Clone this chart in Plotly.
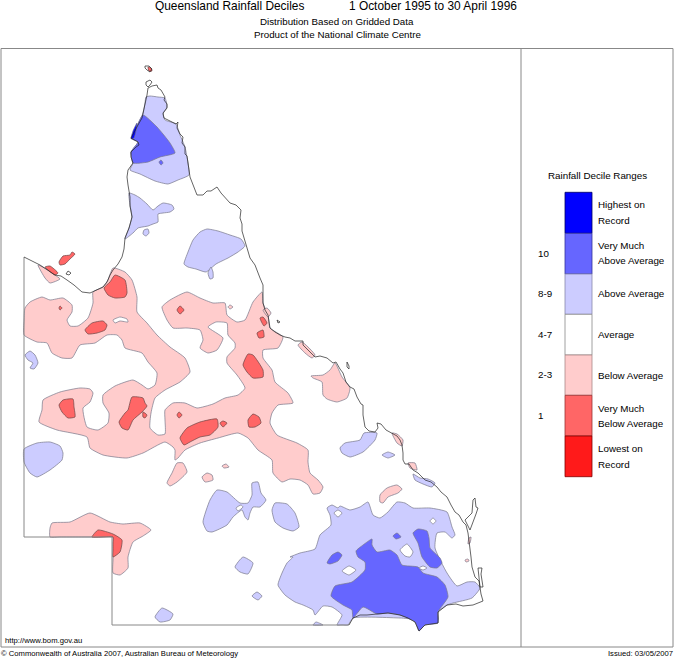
import plotly.graph_objects as go

# Map geometry in image-pixel units
COAST = [(349,625),(353,618),(360,615),(367,615),(377,614),(388,613),(400,615),(408,618),(415,622),(419,631),(425,625),(431,624),(438,623),(438,612),(442,609),(447,605),(456,604),(463,606),(473,605),(478,603),(483,601),(481,594),(480,587),(479,581),(475,577),(472,567),(471,557),(470,547),(469,541),(468,533),(466,525),(463,522),(459,515),(455,512),(451,505),(447,497),(441,492),(437,487),(431,482),(425,480),(418,473),(413,470),(409,464),(405,464),(403,460),(403,453),(402,445),(400,440),(397,436),(392,433),(386,430),(381,424),(377,423),(378,428),(375,432),(369,431),(365,427),(363,415),(363,405),(361,404),(357,397),(354,389),(350,387),(346,382),(343,373),(340,369),(336,362),(333,363),(327,358),(320,356),(315,357),(309,351),(303,345),(303,341),(295,341),(290,338),(285,337),(280,335),(275,332),(270,328),(269,322),(268,315),(265,310),(263,303),(263,294),(263,285),(260,278),(257,270),(255,265),(250,258),(247,248),(245,240),(242,231),(242,224),(240,218),(241,210),(236,205),(230,203),(226,199),(221,193),(217,187),(211,191),(207,191),(203,195),(197,195),(194,187),(190,177),(189,170),(188,163),(187,156),(185,154),(185,147),(182,143),(183,137),(180,134),(177,128),(178,122),(176,124),(170,121),(164,118),(163,113),(167,108),(167,104),(164,100),(165,97),(161,90),(158,88),(157,85),(152,86),(148,88),(147,95),(145,104),(143,113),(142,118),(138,125),(135,131),(131,138),(138,142),(139,145),(136,147),(131,152),(131,157),(133,163),(128,170),(127,177),(128,185),(130,197),(130,206),(132,217),(129,228),(125,238),(124,249),(122,257),(118,264),(113,270),(110,275),(107,282),(103,287),(97,290),(90,293),(82,292),(74,285),(67,280),(61,276),(55,275),(48,270),(40,265),(32,261),(24,257)]
INLAND_BORDER = [(24,257),(24,537),(112,537),(112,625),(349,625)]
COAST_BITS = [
    [(145,66),(149,66),(152,69),(150,72),(147,70),(145,68),(145,66)],
    [(146,85),(146,82),(150,80),(152,82),(150,85),(148,87),(146,85)],
    [(473,500),(475,498),(476,507),(478,508),(476,514),(473,522),(470,530),(465,520),(472,513),(473,500)],
    [(478,568),(482,568),(481,574),(482,580),(483,587),(480,587),(479,577),(478,568)],
    [(347,362),(349,366),(349,369),(347,367),(347,362)],
    [(277,320),(280,322),(278,323),(277,320)],
    [(68,271),(71,273),(69,275),(66,274),(68,271)],
]

ABOVE = [
    [(146,97),(150,96),(158,97),(165,98),(167,107),(163,114),(165,120),(176,124),(180,135),(185,147),(188,163),(189,175),(178,180),(168,184),(155,181),(140,174),(130,170),(133,163),(131,152),(138,142),(136,130),(143,113),(145,103)],
    [(129,193),(135,195),(140,198),(147,204),(153,210),(158,206),(163,203),(172,205),(174,209),(170,212),(163,213),(158,214),(158,222),(153,224),(148,226),(138,228),(133,233),(125,239),(129,228),(132,217),(130,205)],
    [(144,230),(148,229),(149,233),(146,236),(143,234)],
    [(184,264),(188,252),(193,240),(200,232),(207,229),(218,231),(230,235),(241,239),(245,246),(238,252),(228,258),(216,264),(206,272),(196,269),(188,267)],
    [(208,273),(211,267),(213,272),(213,278),(210,279)],
    [(25,355),(30,351),(35,355),(38,363),(34,369),(30,368),(33,363),(28,360)],
    [(24,449),(37,443),(50,442),(60,446),(63,453),(62,460),(50,470),(37,477),(30,473),(24,462)],
    [(203,522),(210,500),(217,490),(227,492),(240,503),(248,503),(252,495),(252,483),(258,482),(261,493),(266,500),(260,507),(253,507),(250,513),(248,520),(245,517),(242,510),(233,517),(227,525),(212,532),(207,531)],
    [(272,510),(275,503),(287,504),(295,513),(299,527),(293,531),(283,528),(275,522)],
    [(235,567),(243,557),(253,563),(248,574),(240,572)],
    [(252,596),(257,592),(262,596),(258,600)],
    [(155,617),(162,608),(173,614),(170,620),(160,622)],
    [(340,448),(345,443),(360,440),(364,433),(377,433),(375,440),(363,452),(350,457),(342,453)],
    [(382,455),(388,452),(395,455),(388,458)],
    [(413,474),(420,478),(428,479),(435,483),(432,487),(423,484),(415,480)],
    [(290,557),(300,553),(315,549),(320,535),(331,525),(330,515),(327,508),(332,505),(338,508),(340,506),(350,510),(360,507),(368,502),(373,515),(380,518),(388,512),(397,502),(405,503),(413,508),(430,508),(447,512),(452,527),(455,535),(452,538),(445,532),(437,533),(435,548),(447,573),(457,586),(467,582),(475,582),(480,588),(472,598),(453,603),(447,605),(438,612),(438,620),(400,618),(353,618),(348,625),(342,625),(337,625),(342,615),(332,607),(323,606),(315,615),(313,610),(303,605),(295,602),(285,595),(278,585),(282,573),(287,563),(293,557)],
    [(313,625),(316,622),(323,625)],
]
MUCH_ABOVE = [
    [(143,115),(157,127),(170,143),(175,153),(160,157),(148,162),(133,163),(131,152),(138,142),(132,139),(136,128)],
    [(159,162),(161,160),(163,163),(161,165)],
    [(356,551),(363,545),(372,539),(372,545),(377,552),(390,550),(397,555),(402,565),(418,567),(423,573),(437,577),(445,585),(448,597),(438,612),(438,623),(425,625),(419,631),(415,622),(400,615),(388,613),(377,614),(363,607),(353,618),(352,610),(343,605),(331,596),(335,586),(352,582),(365,570),(365,562),(358,557)],
    [(413,533),(418,529),(427,531),(429,538),(430,548),(440,558),(442,563),(437,568),(430,567),(422,557),(418,543)],
    [(393,536),(397,533),(401,537),(396,539)],
    [(327,563),(332,555),(338,552),(342,555),(338,561),(330,564)],
]
HIGHEST = [[(137,123),(136,131),(134,138),(131,139),(133,131)]]

BELOW = [
    [(113,268),(125,272),(132,280),(137,297),(137,312),(147,323),(157,335),(170,347),(185,358),(190,372),(180,382),(165,390),(155,398),(151,413),(150,428),(158,435),(165,434),(165,420),(165,410),(173,403),(185,403),(197,408),(213,404),(225,398),(238,395),(245,388),(237,375),(227,363),(227,357),(235,348),(235,343),(228,335),(227,323),(216,322),(208,327),(223,338),(217,350),(208,353),(200,348),(203,340),(200,330),(187,328),(173,328),(167,320),(162,307),(170,300),(187,292),(200,298),(213,303),(225,303),(227,315),(237,322),(245,320),(253,302),(262,292),(263,303),(268,315),(270,328),(283,337),(278,348),(263,350),(263,358),(272,370),(275,382),(288,393),(293,403),(278,405),(272,413),(270,423),(277,435),(297,443),(308,450),(308,462),(310,473),(318,480),(323,487),(320,493),(313,494),(308,485),(300,480),(290,479),(282,482),(273,473),(272,460),(258,450),(248,438),(238,433),(218,438),(200,443),(185,450),(178,458),(175,460),(175,450),(173,447),(165,442),(143,453),(127,458),(103,455),(90,448),(87,437),(57,430),(39,422),(42,410),(43,400),(60,392),(80,388),(90,389),(93,393),(90,402),(83,408),(87,427),(98,430),(108,423),(109,413),(103,403),(103,395),(115,386),(133,380),(142,385),(148,389),(155,385),(157,373),(148,362),(142,353),(125,348),(122,340),(117,335),(107,335),(95,343),(80,345),(72,358),(62,358),(52,353),(47,343),(37,342),(24,335),(24,320),(25,308),(30,302),(42,297),(50,300),(63,298),(72,305),(72,312),(67,320),(70,326),(78,326),(88,318),(93,303),(93,292),(103,287),(108,280)],
    [(38,265),(48,270),(55,275),(60,279),(50,283),(45,278)],
    [(167,483),(172,473),(177,463),(183,463),(187,472),(177,482),(170,486)],
    [(202,477),(207,473),(212,475),(213,480),(205,482)],
    [(222,466),(226,464),(229,467),(224,468)],
    [(228,307),(230,305),(233,307),(230,309)],
    [(263,310),(267,308),(271,313),(268,317)],
    [(298,345),(302,342),(315,355),(312,358),(305,353)],
    [(311,376),(323,375),(330,370),(335,363),(342,377),(350,388),(347,398),(337,402),(327,399),(323,395),(322,382),(313,378)],
    [(392,433),(397,434),(403,440),(402,446),(397,443)],
    [(408,463),(415,463),(417,470),(410,468)],
    [(380,495),(387,488),(397,485),(402,489),(398,493),(388,497),(383,503),(380,502)],
    [(50,528),(52,523),(70,522),(90,513),(110,522),(123,524),(140,523),(151,530),(143,536),(133,542),(128,557),(128,568),(120,575),(113,573),(113,560),(113,545),(113,537),(100,537),(80,537),(60,537),(50,537)],
    [(469,538),(471,537),(470,543),(468,544)],
    [(465,560),(468,559),(469,561),(466,562)],
]
MUCH_BELOW = [
    [(115,275),(125,280),(127,293),(125,297),(115,298),(108,295),(104,288),(110,282)],
    [(85,330),(92,323),(103,321),(107,325),(105,330),(97,333),(88,334)],
    [(59,405),(63,400),(73,399),(74,407),(75,417),(68,418),(62,412)],
    [(132,397),(143,398),(145,403),(147,406),(142,412),(133,420),(128,430),(122,428),(119,422),(125,413),(128,410)],
    [(143,412),(147,415),(145,418),(143,417)],
    [(177,415),(179,412),(182,415),(179,418)],
    [(177,310),(180,306),(184,310),(180,314)],
    [(180,438),(187,428),(200,422),(217,419),(218,427),(210,435),(200,437),(190,442),(184,445)],
    [(220,423),(223,421),(227,423),(223,427)],
    [(248,420),(253,414),(259,417),(261,423),(255,427),(249,427)],
    [(243,365),(248,354),(253,355),(263,370),(263,377),(253,378),(247,372)],
    [(260,318),(263,317),(267,323),(264,326)],
    [(257,333),(263,330),(264,337),(259,338)],
    [(92,537),(98,530),(113,534),(122,540),(120,552),(113,557),(113,550),(113,543),(113,537),(103,537)],
    [(59,262),(63,256),(70,255),(72,252),(75,254),(70,259),(65,264),(60,265)],
    [(45,267),(50,266),(58,273),(55,275)],
    [(148,67),(151,68),(152,71),(149,71)],
    [(59,308),(60,306),(62,308),(60,310)],
]
WHITE_HOLES = [
    [(113,320),(120,317),(127,319),(128,322),(120,321),(115,323)],
    [(334,513),(338,510),(342,513),(338,517)],
    [(430,521),(433,518),(436,521),(433,524)],
    [(400,550),(407,544),(413,552),(410,557),(405,556)],
    [(342,571),(349,566),(356,570),(349,575)],
    [(419,568),(423,566),(427,568),(423,570)],
    [(236,508),(241,505),(243,507),(238,511)],
]

LEVELS = [ABOVE, MUCH_ABOVE, HIGHEST, BELOW, MUCH_BELOW, WHITE_HOLES]
LEVEL_COLOURS = ["#ccccff", "#6666ff", "#0000ff", "#ffcccc", "#ff6666", "#ffffff"]

# Legend
LEGEND_EDGES = [192.3, 233.3, 274, 314.3, 355, 395.3, 436, 476.7]
LEGEND_COLOURS = ["#0000ff", "#6666ff", "#ccccff", "#ffffff", "#ffcccc", "#ff6666", "#ff1a1a"]
LEGEND_LINES = ["#000060", "#333399", "#8888aa", "#888888", "#aa8888", "#993333", "#800000"]
DECILE_LABELS = [("10", 253), ("8-9", 293), ("4-7", 334), ("2-3", 374), ("1", 415)]
RANGE_LABELS = [("Highest on", 204), ("Record", 220), ("Very Much", 245), ("Above Average", 260.5),
                ("Above Average", 293.5), ("Average", 334), ("Below Average", 375), ("Very Much", 408),
                ("Below Average", 423), ("Lowest on", 448), ("Record", 464)]

FONT = "Liberation Sans"
fig = go.Figure()

def add_poly(points, fill, line, width=0.7):
    xs = [p[0] for p in points] + [points[0][0]]
    ys = [p[1] for p in points] + [points[0][1]]
    fig.add_trace(go.Scatter(x=xs, y=ys, mode="lines", fill="toself", fillcolor=fill,
                             line=dict(color=line, width=width, shape="spline", smoothing=0.5),
                             hoverinfo="skip", showlegend=False))

for level, colour in zip(LEVELS, LEVEL_COLOURS):
    for poly in level:
        add_poly(poly, colour, "#77778a" if colour != "#ff6666" else "#6a4444")

# state outline: inland borders are grey, the coast is dark
fig.add_trace(go.Scatter(x=[p[0] for p in INLAND_BORDER], y=[p[1] for p in INLAND_BORDER], mode="lines",
                         line=dict(color="#888888", width=1), hoverinfo="skip", showlegend=False))
for part in [COAST] + COAST_BITS:
    fig.add_trace(go.Scatter(x=[p[0] for p in part], y=[p[1] for p in part], mode="lines",
                             line=dict(color="#222222", width=0.7), hoverinfo="skip", showlegend=False))

# legend column
fig.add_trace(go.Bar(x=[578.5] * 7, y=[b - a for a, b in zip(LEGEND_EDGES, LEGEND_EDGES[1:])],
                     base=LEGEND_EDGES[:-1], width=27,
                     marker=dict(color=LEGEND_COLOURS, line=dict(color=LEGEND_LINES, width=0.8)),
                     hoverinfo="skip", showlegend=False))

def text(x, y, s, size, anchor="left"):
    fig.add_annotation(x=x, y=y, text=s, showarrow=False, xanchor=anchor, yanchor="middle",
                       font=dict(family=FONT, size=size, color="#000000"), xref="x", yref="y",
                       borderpad=0, borderwidth=0)

text(155, 5.5, "Queensland Rainfall Deciles", 11.9)
text(349, 5.5, "1 October 1995 to 30 April 1996", 11.9)
text(337, 21, "Distribution Based on Gridded Data", 9.75, "center")
text(337, 34, "Product of the National Climate Centre", 9.75, "center")
text(548, 175, "Rainfall Decile Ranges", 9.8)
for s, y in DECILE_LABELS:
    text(538, y, s, 9.8)
for s, y in RANGE_LABELS:
    text(598, y, s, 9.8)
text(5, 640.5, "http://www.bom.gov.au", 7.7)
text(1, 653, "© Commonwealth of Australia 2007, Australian Bureau of Meteorology", 7.65)
text(673, 653, "Issued: 03/05/2007", 7.65, "right")

# frame
fig.add_shape(type="rect", x0=1, y0=48.5, x1=673, y1=647, line=dict(color="#888888", width=1), layer="below")
fig.add_shape(type="line", x0=521, y0=48.5, x1=521, y1=647, line=dict(color="#888888", width=1), layer="below")

fig.update_layout(width=674, height=658, margin=dict(l=0, r=0, t=0, b=0),
                  paper_bgcolor="white", plot_bgcolor="white", showlegend=False,
                  xaxis=dict(range=[0, 674], visible=False, fixedrange=True),
                  yaxis=dict(range=[658, 0], visible=False, fixedrange=True))

fig.write_html("out.html", config={"displayModeBar": False},
               post_script="document.body.style.margin='0';")
